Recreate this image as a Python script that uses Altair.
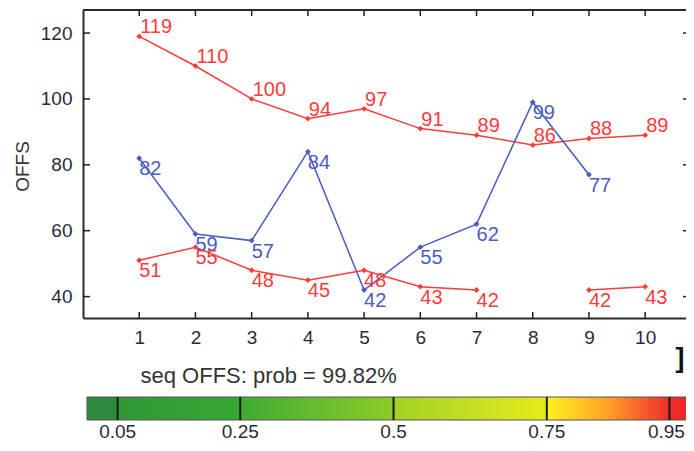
import altair as alt
import pandas as pd

# ---- data ----
x_idx = [1, 2, 3, 4, 5, 6, 7, 8, 9, 10]
upper_red = [119, 110, 100, 94, 97, 91, 89, 86, 88, 89]
blue = [82, 59, 57, 84, 42, 55, 62, 99, 77, None]
lower_red = [51, 55, 48, 45, 48, 43, 42, None, 42, 43]
x_ticks = [1, 2, 3, 4, 5, 6, 7, 8, 9, 10]
y_ticks = [40, 60, 80, 100, 120]
cb_breaks = [0.05, 0.25, 0.5, 0.75, 0.95]
cb_labels = ["0.05", "0.25", "0.5", "0.75", "0.95"]
x_title = "seq OFFS: prob = 99.82%"
y_title = "OFFS"

rows = []
for name, vals in [("upper", upper_red), ("blue", blue), ("lower", lower_red)]:
    seg = 0
    for x, v in zip(x_idx, vals):
        if v is None:
            seg += 1
            continue
        rows.append({"x": x, "v": v, "series": name, "seg": f"{name}{seg}"})
df = pd.DataFrame(rows)

W, H = 603, 308
FONT = "Liberation Sans"
TXT = "#2a2a3a"

xs = alt.Scale(domain=[0, 10.726], nice=False, zero=False)
ys = alt.Scale(domain=[33.5, 127], nice=False, zero=False)
line_col = alt.Scale(domain=["upper", "blue", "lower"], range=["#ff3b3b", "#4a5cc4", "#ff3b3b"])
lab_col = alt.Scale(domain=["upper", "blue", "lower"], range=["#ff3346", "#4656bd", "#ff3346"])

base = alt.Chart(df)

lines = base.mark_line(strokeWidth=1.5).encode(
    x=alt.X("x:Q", scale=xs, axis=alt.Axis(
        values=x_ticks, format="d", ticks=False, tickSize=0, grid=False, domain=True,
        domainColor="#2a2a2a", domainWidth=2, labelFont=FONT, labelFontSize=19,
        labelColor=TXT, labelPadding=10, title=x_title, titleX=57, titleY=64,
        titleAlign="left", titleBaseline="alphabetic", titleFont=FONT,
        titleFontSize=22, titleFontWeight="normal", titleColor="#333333")),
    y=alt.Y("v:Q", scale=ys, axis=alt.Axis(
        values=y_ticks, format="d", ticks=False, tickSize=0, grid=False, domain=True,
        domainColor="#2a2a2a", domainWidth=2, labelFont=FONT, labelFontSize=19,
        labelColor=TXT, labelPadding=11, title=y_title, titleX=-55, titleY=156,
        titleAlign="center", titleBaseline="alphabetic", titleFont=FONT,
        titleFontSize=19, titleFontWeight="normal", titleColor="#333333")),
    color=alt.Color("series:N", scale=line_col, legend=None),
    detail="seg:N",
)

points = base.mark_point(shape="diamond", filled=True, size=34, opacity=1).encode(
    x=alt.X("x:Q", scale=xs),
    y=alt.Y("v:Q", scale=ys),
    color=alt.Color("series:N", scale=line_col, legend=None),
)

lab_up = base.transform_filter(alt.datum.series == "upper").mark_text(
    align="left", baseline="alphabetic", dx=1, dy=-3, font=FONT, fontSize=20
).encode(
    x=alt.X("x:Q", scale=xs), y=alt.Y("v:Q", scale=ys), text="v:Q",
    color=alt.Color("series:N", scale=lab_col, legend=None),
)
lab_dn = base.transform_filter(alt.datum.series != "upper").mark_text(
    align="left", baseline="top", dx=0, dy=1, font=FONT, fontSize=20
).encode(
    x=alt.X("x:Q", scale=xs), y=alt.Y("v:Q", scale=ys), text="v:Q",
    color=alt.Color("series:N", scale=lab_col, legend=None),
)

xt = alt.Chart(pd.DataFrame({"t": x_ticks}))
yt = alt.Chart(pd.DataFrame({"t": y_ticks}))
tick_style = dict(color="#222222", strokeWidth=1.5)
bot_ticks = xt.mark_rule(**tick_style).encode(x=alt.X("t:Q", scale=xs), y=alt.value(H), y2=alt.value(H - 6))
top_ticks = xt.mark_rule(**tick_style).encode(x=alt.X("t:Q", scale=xs), y=alt.value(0), y2=alt.value(6))
left_ticks = yt.mark_rule(**tick_style).encode(y=alt.Y("t:Q", scale=ys), x=alt.value(0), x2=alt.value(7))
right_ticks = yt.mark_rule(**tick_style).encode(y=alt.Y("t:Q", scale=ys), x=alt.value(W - 3), x2=alt.value(W))
top_frame = alt.Chart(pd.DataFrame({"a": [0]})).mark_rule(color="#2a2a2a", strokeWidth=2).encode(
    x=alt.value(0), x2=alt.value(W), y=alt.value(0))

bracket = alt.Chart(pd.DataFrame({"s": ["]"]})).mark_text(
    font=FONT, fontSize=27, fontWeight="bold", color="#111111", align="center", baseline="alphabetic"
).encode(text="s:N", x=alt.value(597), y=alt.value(357))

main = alt.layer(top_frame, lines, points, lab_up, lab_dn, bot_ticks, top_ticks,
                 left_ticks, right_ticks, bracket)

# ---- colour bar ----
cbs = alt.Scale(domain=[-0.0065, 0.977], nice=False, zero=False)
grad = alt.LinearGradient(
    gradient="linear", x1=0, y1=0, x2=1, y2=0,
    stops=[
        alt.GradientStop(offset=0.0, color="#2d8a3b"),
        alt.GradientStop(offset=0.05, color="#2d8a3b"),
        alt.GradientStop(offset=0.0501, color="#2f9836"),
        alt.GradientStop(offset=0.25, color="#37a735"),
        alt.GradientStop(offset=0.2501, color="#40ac33"),
        alt.GradientStop(offset=0.5, color="#8ccc28"),
        alt.GradientStop(offset=0.5001, color="#a2d226"),
        alt.GradientStop(offset=0.75, color="#e6ea1c"),
        alt.GradientStop(offset=0.7501, color="#fff21e"),
        alt.GradientStop(offset=0.85, color="#ffa028"),
        alt.GradientStop(offset=0.95, color="#ee2b2b"),
        alt.GradientStop(offset=1.0, color="#ee2424"),
    ],
)
CB_TOP, CB_BOT, CB_LAB = 387, 410, 428
cb_rect = alt.Chart(pd.DataFrame({"a": [0.0], "b": [1.0]})).mark_rect(
    color=grad, stroke="#555555", strokeWidth=1
).encode(x=alt.X("a:Q", scale=cbs, axis=None), x2="b:Q", y=alt.value(CB_TOP), y2=alt.value(CB_BOT))
cb_df = pd.DataFrame({"b": cb_breaks, "lab": cb_labels})
cb_div = alt.Chart(cb_df).mark_rule(color="#1a1a1a", strokeWidth=2).encode(
    x=alt.X("b:Q", scale=cbs, axis=None), y=alt.value(CB_TOP), y2=alt.value(CB_BOT))
cb_text = alt.Chart(cb_df)
cb_lab = cb_text.transform_filter(alt.datum.b < 0.9).mark_text(
    font=FONT, fontSize=19, color=TXT, align="center", baseline="alphabetic"
).encode(x=alt.X("b:Q", scale=cbs, axis=None), y=alt.value(CB_LAB), text="lab:N")
cb_lab_last = cb_text.transform_filter(alt.datum.b > 0.9).mark_text(
    font=FONT, fontSize=19, color=TXT, align="center", baseline="alphabetic", dx=-3
).encode(x=alt.X("b:Q", scale=cbs, axis=None), y=alt.value(CB_LAB), text="lab:N")
cbar = alt.layer(cb_rect, cb_div, cb_lab, cb_lab_last)

chart = alt.layer(main, cbar).resolve_scale(x="independent").properties(
    width=W, height=H,
    padding={"left": 75, "top": 2, "right": 0, "bottom": 125},
    autosize=alt.AutoSizeParams(type="none"),
    background="white",
).configure_view(stroke=None)

chart.save("out.html", embed_options={"renderer": "svg", "actions": False})
